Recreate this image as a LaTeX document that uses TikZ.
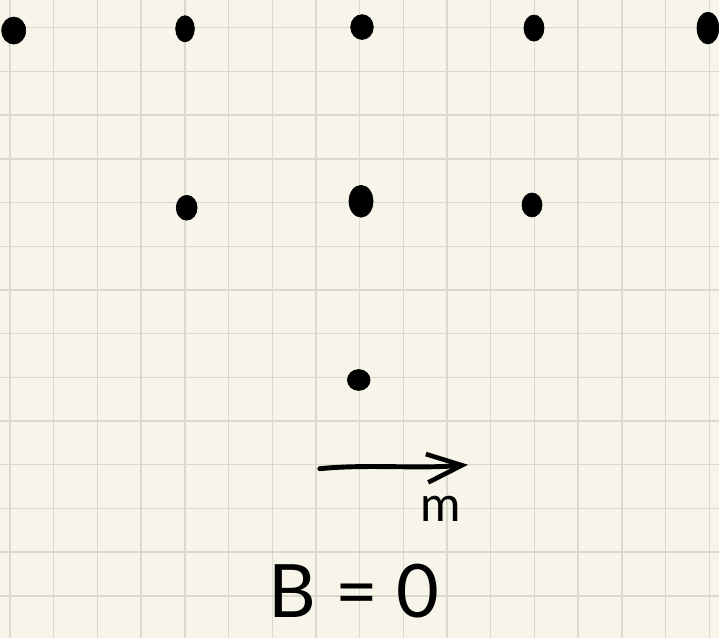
\documentclass[tikz,border=0pt]{standalone}
\usepackage{fontspec}
\setmainfont{Lato}
\usetikzlibrary{arrows.meta, shapes.geometric}
\definecolor{paper}{RGB}{247, 245, 233}
\definecolor{gridgrey}{RGB}{218, 217, 205}

\begin{document}
\begin{tikzpicture}[
  every node/.style={inner sep=0pt, outer sep=0pt},
  site/.style={ellipse, fill=black, draw=black, line width=0.4pt},
  arr/.style={-{Straight Barb[length=8mm, width=6.5mm, line width=3pt]}, line width=3.2pt, line cap=round},
  lbl/.style={font=\fontsize{32}{32}\selectfont},
  eqn/.style={font=\fontsize{48}{48}\selectfont, anchor=base}
]
  % paper and squared grid
  \useasboundingbox (-0.229, 0.635) rectangle (16.224, -13.96);
  \fill[paper] (-0.229, 0.635) rectangle (16.224, -13.96);
  \draw[gridgrey, line width=0.9pt] (-0.229, 0.635) grid (16.224, -13.96);

  % lattice sites
  \node[site, minimum width=0.55cm, minimum height=0.62cm] (s1) at (0.085, -0.064) {};
  \node[site, minimum width=0.43cm, minimum height=0.6cm] (s2) at (4.005, -0.023) {};
  \node[site, minimum width=0.52cm, minimum height=0.57cm] (s3) at (8.055, 0.016) {};
  \node[site, minimum width=0.46cm, minimum height=0.6cm] (s4) at (11.99, -0.007) {};
  \node[site, minimum width=0.5cm, minimum height=0.73cm] (s5) at (15.97, -0.007) {};
  \node[site, minimum width=0.48cm, minimum height=0.57cm] (s6) at (4.043, -4.119) {};
  \node[site, minimum width=0.55cm, minimum height=0.73cm] (s7) at (8.032, -3.97) {};
  \node[site, minimum width=0.46cm, minimum height=0.55cm] (s8) at (11.945, -4.055) {};
  \node[site, minimum width=0.52cm, minimum height=0.48cm] (s9) at (7.98, -8.06) {};

  % magnetisation
  \coordinate (mtail) at (7.09, -10.09);
  \coordinate (mhead) at (10.48, -10.0);
  \draw[arr] (mtail) .. controls (8.2, -9.98) and (9.3, -10.1) .. (mhead);
  \node[lbl] (mlabel) at (9.86, -11.02) {m};

  \node[eqn] (beq) at (7.87, -13.5) {B = 0};
\end{tikzpicture}
\end{document}
